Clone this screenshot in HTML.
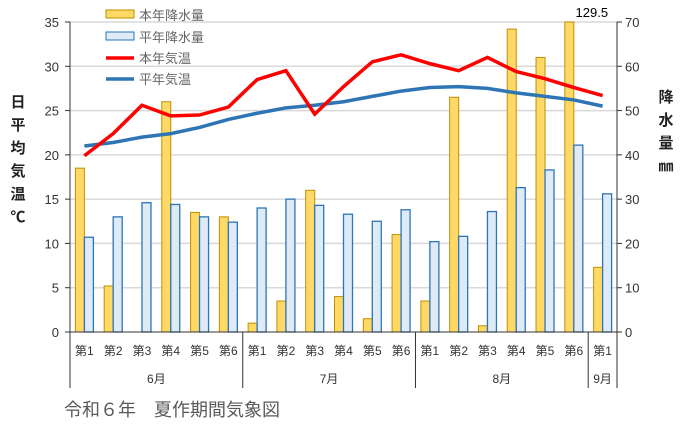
<!DOCTYPE html>
<html><head><meta charset="utf-8"><style>
body{margin:0;background:#fff;width:684px;height:428px;overflow:hidden;font-family:"Liberation Sans","Noto Sans CJK JP",sans-serif}
</style></head><body>
<svg id="c" width="684" height="428" xmlns="http://www.w3.org/2000/svg" font-family="Liberation Sans, Noto Sans CJK JP, sans-serif"></svg>
<script>
const categories=["第1","第2","第3","第4","第5","第6","第1","第2","第3","第4","第5","第6","第1","第2","第3","第4","第5","第6","第1"];
const months=["6月","7月","8月","9月"];
const monthCounts=[6,6,6,1];
const rainThisYear=[37,10.4,0,52,27,26,2,7,32,8,3,22,7,53,1.4,68.4,62,129.5,14.6];
const rainNormal=[21.4,26,29.2,28.8,26,24.8,28,30,28.6,26.6,25,27.6,20.4,21.6,27.2,32.6,36.6,42.2,31.2];
const tempThisYear=[19.9,22.4,25.6,24.4,24.5,25.4,28.5,29.5,24.6,27.7,30.5,31.3,30.3,29.5,31,29.4,28.6,27.6,26.7];
const tempNormal=[21,21.4,22,22.4,23.1,24,24.7,25.3,25.6,26,26.6,27.2,27.6,27.7,27.5,27,26.6,26.2,25.5];
const leftTicks=[0,5,10,15,20,25,30,35];
const rightTicks=[0,10,20,30,40,50,60,70];

const svg=document.getElementById('c');const NS='http://www.w3.org/2000/svg';
const X0=70,X1=617,Y0=332,Y1=22;
const bw=(X1-X0)/categories.length;
const xc=i=>X0+bw*(i+0.5);
const yT=v=>Y0-(v/35)*(Y0-Y1);
const yR=v=>Y0-(Math.min(v,70)/70)*(Y0-Y1);
function el(t,a,p){const e=document.createElementNS(NS,t);for(const k in a)e.setAttribute(k,a[k]);(p||svg).appendChild(e);return e;}
function tx(s,x,y,a){const e=el('text',Object.assign({x:x,y:y,'font-size':13,fill:'#333'},a||{}));e.textContent=s;return e;}

const grid=el('g',{});
leftTicks.forEach(v=>{if(v>0){const l=el('line',{x1:X0,x2:X1,y1:yT(v),y2:yT(v),stroke:'#d9d9d9','stroke-width':1.5},grid);}});
// bars
const bars=el('g',{});
const b=9;
rainThisYear.forEach((v,i)=>{if(v<=0)return;const y=yR(v);const r=el('rect',{x:xc(i)-b,y:y,width:b,height:Y0-y,fill:'#ffd966',stroke:'#bf9000','stroke-width':1},bars);});
rainNormal.forEach((v,i)=>{const y=yR(v);const r=el('rect',{x:xc(i),y:y,width:b,height:Y0-y,fill:'#deebf7',stroke:'#2e75b6','stroke-width':1.3},bars);});
// lines
const pn=el('polyline',{points:tempNormal.map((v,i)=>xc(i)+','+yT(v)).join(' '),fill:'none',stroke:'#2e75b6','stroke-width':3.5});

const pt=el('polyline',{points:tempThisYear.map((v,i)=>xc(i)+','+yT(v)).join(' '),fill:'none',stroke:'#ff0000','stroke-width':3.5});

// axes
el('line',{x1:X0,x2:X0,y1:Y1,y2:Y0,stroke:'#333'});el('line',{x1:X1,x2:X1,y1:Y1,y2:Y0,stroke:'#333'});
el('line',{x1:X0,x2:X1,y1:Y0,y2:Y0,stroke:'#333'});
leftTicks.forEach(v=>{el('line',{x1:X0-5,x2:X0,y1:yT(v),y2:yT(v),stroke:'#333'});const t=tx(String(v),X0-11,yT(v)+5,{'text-anchor':'end'});});
rightTicks.forEach(v=>{el('line',{x1:X1,x2:X1+5,y1:yR(v),y2:yR(v),stroke:'#333'});const t=tx(String(v),X1+8,yR(v)+5);});
const big=tx(String(rainThisYear[17]),xc(17)+18,17,{'text-anchor':'middle','font-size':13,fill:'#000'});
categories.forEach((c,i)=>{const t=tx(c,xc(i),355,{'text-anchor':'middle','font-size':12});});
let s=0;el('line',{x1:X0,x2:X0,y1:Y0,y2:388,stroke:'#333'});
months.forEach((m,k)=>{const a=s;s+=monthCounts[k];const xe=X0+bw*s;el('line',{x1:xe,x2:xe,y1:Y0,y2:388,stroke:'#333'});
const t=tx(m,(X0+bw*a+xe)/2,383,{'text-anchor':'middle','font-size':12});});
// axis titles
const lt=el('g',{});
['日','平','均','気','温','℃'].forEach((c,i)=>tx(c,18,107+i*23,{'text-anchor':'middle','font-size':15,'font-weight':'bold',fill:'#222'},lt));
const rt=el('g',{});
['降','水','量','㎜'].forEach((c,i)=>tx(c,666,102+i*23,{'text-anchor':'middle','font-size':15,'font-weight':'bold',fill:'#222'},rt));
// legend
const lg=el('g',{});
const e1=el('g',{},lg);
el('rect',{x:106,y:10,width:28,height:8,fill:'#ffd966',stroke:'#bf9000'},e1);tx('本年降水量',139,20,{fill:'#666'},e1);
const e2=el('g',{},lg);
el('rect',{x:106,y:32,width:28,height:8,fill:'#deebf7',stroke:'#2e75b6'},e2);tx('平年降水量',139,42,{fill:'#666'},e2);
const e3=el('g',{},lg);
el('line',{x1:106,x2:134,y1:58,y2:58,stroke:'#ff0000','stroke-width':3.5},e3);tx('本年気温',139,63,{fill:'#666'},e3);
const e4=el('g',{},lg);
el('line',{x1:106,x2:134,y1:79,y2:79,stroke:'#2e75b6','stroke-width':3.5},e4);tx('平年気温',139,84,{fill:'#666'},e4);
const ti=tx('令和６年　夏作期間気象図',64,416,{'font-size':18,fill:'#595959'});
</script>
</body></html>
